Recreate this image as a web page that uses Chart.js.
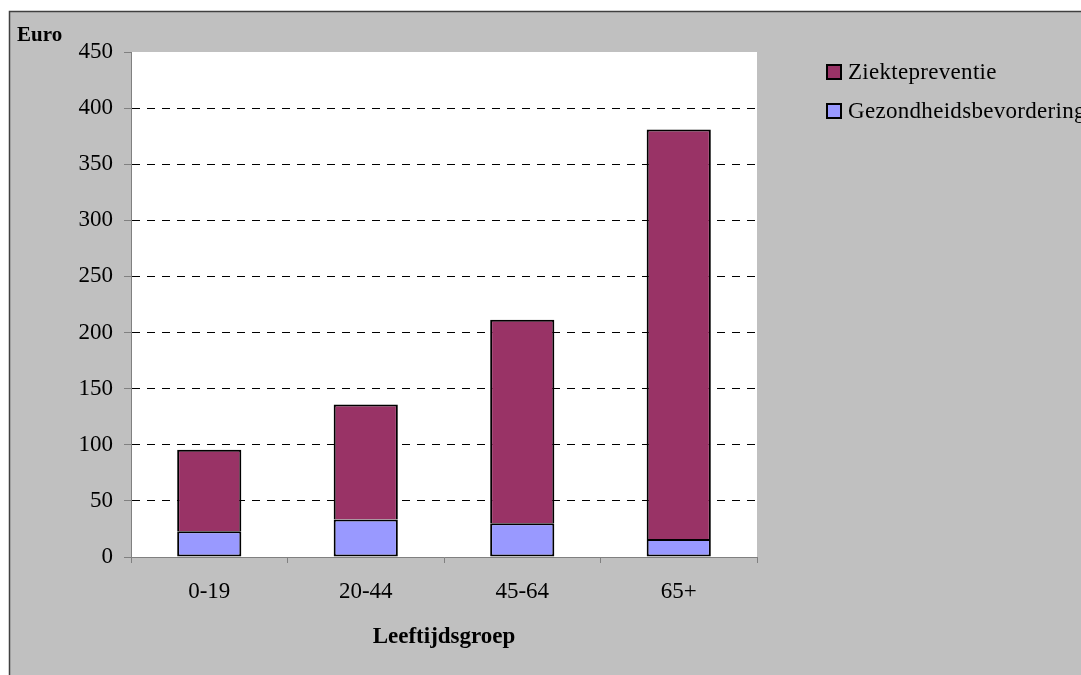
<!DOCTYPE html>
<html>
<head>
<meta charset="utf-8">
<script src="https://cdn.jsdelivr.net/npm/chart.js@4/dist/chart.umd.min.js"></script>
<style>
  html, body { margin: 0; padding: 0; background: #fff; }
  #c { display: block; }
</style>
</head>
<body>
<canvas id="c" width="1081" height="675"></canvas>
<script>
// ---- data ----
const categories = ['0-19', '20-44', '45-64', '65+'];
const gezondheidsbevordering = [23, 33.5, 30, 16];
const ziektepreventie = [72.5, 102.5, 181.5, 365];
const yTickMin = 0;
const yTickMax = 450;
const yTickStep = 50;
const seriesNames = ['Gezondheidsbevordering', 'Ziektepreventie'];
const yTitle = 'Euro';
const xTitle = 'Leeftijdsgroep';

const COL_BLUE = '#9999FF';
const COL_MAROON = '#993366';
const FONT = '"Liberation Serif", "Times New Roman", serif';
const FS = 23;

const decor = {
  id: 'decor',
  beforeDraw(chart) {
    const ctx = chart.ctx;
    const W = chart.width, H = chart.height;
    const a = chart.chartArea;
    ctx.save();
    ctx.fillStyle = '#ffffff';
    ctx.fillRect(0, 0, W, H);
    ctx.fillStyle = '#C0C0C0';
    ctx.fillRect(9, 11, W - 9, H - 11);
    ctx.strokeStyle = '#404040';
    ctx.lineWidth = 1.5;
    ctx.beginPath();
    ctx.moveTo(9.5, H);
    ctx.lineTo(9.5, 11.5);
    ctx.lineTo(W, 11.5);
    ctx.stroke();
    ctx.fillStyle = '#ffffff';
    ctx.fillRect(a.left, a.top, a.right - a.left, a.bottom - a.top);
    ctx.restore();
  },
  afterDraw(chart) {
    const ctx = chart.ctx;
    const a = chart.chartArea;
    ctx.save();
    ctx.fillStyle = '#000';
    ctx.textBaseline = 'alphabetic';
    // Y title
    ctx.font = 'bold 21px ' + FONT;
    ctx.textAlign = 'left';
    ctx.fillText(yTitle, 17, 41);
    // X title
    ctx.font = 'bold ' + FS + 'px ' + FONT;
    ctx.textAlign = 'center';
    ctx.fillText(xTitle, (a.left + a.right) / 2, 643);
    // Legend (top series first)
    ctx.font = FS + 'px ' + FONT;
    ctx.textAlign = 'left';
    if ('letterSpacing' in ctx) ctx.letterSpacing = '0.3px';
    const ds = chart.data.datasets.slice().reverse();
    ds.forEach((d, i) => {
      const base = 79 + i * 39;
      ctx.fillStyle = d.backgroundColor;
      ctx.fillRect(827, base - 14, 14, 14);
      ctx.strokeStyle = '#000';
      ctx.lineWidth = 2;
      ctx.strokeRect(827, base - 14, 14, 14);
      ctx.fillStyle = '#000';
      ctx.fillText(d.label, 848, base);
    });
    ctx.restore();
  }
};

new Chart(document.getElementById('c'), {
  type: 'bar',
  data: {
    labels: categories,
    datasets: [
      { label: seriesNames[0], data: gezondheidsbevordering, backgroundColor: COL_BLUE,
        borderColor: '#000', borderWidth: 2, borderSkipped: false },
      { label: seriesNames[1], data: ziektepreventie, backgroundColor: COL_MAROON,
        borderColor: '#000', borderWidth: { top: 2, left: 2, right: 2, bottom: 0 }, borderSkipped: false }
    ]
  },
  options: {
    responsive: false,
    animation: false,
    devicePixelRatio: 1,
    layout: { padding: { top: 52, right: 324, left: 0, bottom: 0 } },
    datasets: { bar: { barPercentage: 0.41, categoryPercentage: 1 } },
    plugins: {
      legend: { display: false },
      tooltip: { enabled: false },
      title: { display: false }
    },
    scales: {
      x: {
        stacked: true,
        offset: true,
        grid: { offset: true, drawOnChartArea: false, drawTicks: true, tickLength: 6, tickColor: '#808080' },
        border: { color: '#808080', width: 1 },
        ticks: { color: '#000', font: { family: FONT, size: FS }, padding: 15, maxRotation: 0 },
        afterFit: s => { s.height = 118; }
      },
      y: {
        stacked: true,
        min: yTickMin,
        max: yTickMax,
        ticks: { stepSize: yTickStep, color: '#000', font: { family: FONT, size: FS }, padding: 11 },
        grid: {
          color: c => (c.tick && (c.tick.value === yTickMin || c.tick.value === yTickMax)) ? 'rgba(0,0,0,0)' : '#000',
          tickBorderDash: [],
          tickColor: '#808080',
          tickLength: 7,
          lineWidth: 1
        },
        border: { color: '#808080', width: 1, dash: [8, 7] },
        afterFit: s => { s.width = 131; }
      }
    }
  },
  plugins: [decor]
});
</script>
</body>
</html>
